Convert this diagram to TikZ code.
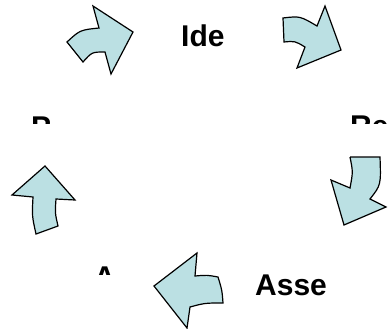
\documentclass[tikz,border=0pt]{standalone}
\usepackage{fontspec}
\setmainfont{Liberation Sans}
\definecolor{arrowfill}{RGB}{187,224,227}
\tikzset{
  bigarrow/.style={draw=black, fill=arrowfill, line width=1.2pt, line join=miter},
  lbl/.style={anchor=base west, inner sep=0pt, font=\fontsize{30}{36}\selectfont\bfseries}
}
\begin{document}
\begin{tikzpicture}[x=1pt,y=-1pt]
\useasboundingbox (0,0) rectangle (388,329);
% texts
\node[lbl] (ide) at (181,47) {Ide};
\node[lbl] (asse) at (255,295) {Asse};
\begin{scope}
  \clip (0,0) rectangle (120,123);
  \node[lbl] (p) at (31,137.5) {P};
\end{scope}
\begin{scope}
  \clip (300,0) rectangle (388,123.5);
  \node[lbl] (re) at (350,136.5) {Re};
\end{scope}
\begin{scope}
  \clip (60,200) rectangle (140,274);
  \node[lbl] (a) at (93.7,287.5) {A};
\end{scope}
% arrow 1 (top left)
\draw[bigarrow] (67,42) .. controls (80,30) .. (99,28) -- (93,6) -- (133,32) -- (111,74) -- (105,52)
  .. controls (92,52) .. (83,62) -- cycle;
% arrow 2 (top right)
\draw[bigarrow] (283,18) .. controls (300,16) .. (317,26) -- (325,6) -- (341,50) -- (297,68) -- (305,47)
  .. controls (295,41) .. (284,42) -- cycle;
% arrow 3 (right)
\draw[bigarrow] (350,157) -- (380,157) .. controls (381,185) .. (370,199) -- (386,207) -- (344,225)
  -- (331,180) -- (350,188) .. controls (353,172) .. (350,157);
% arrow 4 (left)
\draw[bigarrow] (45,166) -- (75,200) -- (56,199) .. controls (55,213) .. (58,226) -- (36,234)
  .. controls (32,216) .. (33,197) -- (12,195) -- cycle;
% arrow 5 (bottom)
\draw[bigarrow] (154,286) -- (197,253) -- (195,276) .. controls (207,275) .. (218,277)
  .. controls (222,290) .. (223,303) .. controls (205,303) .. (190,307) -- (187,328) -- cycle;
\end{tikzpicture}
\end{document}
